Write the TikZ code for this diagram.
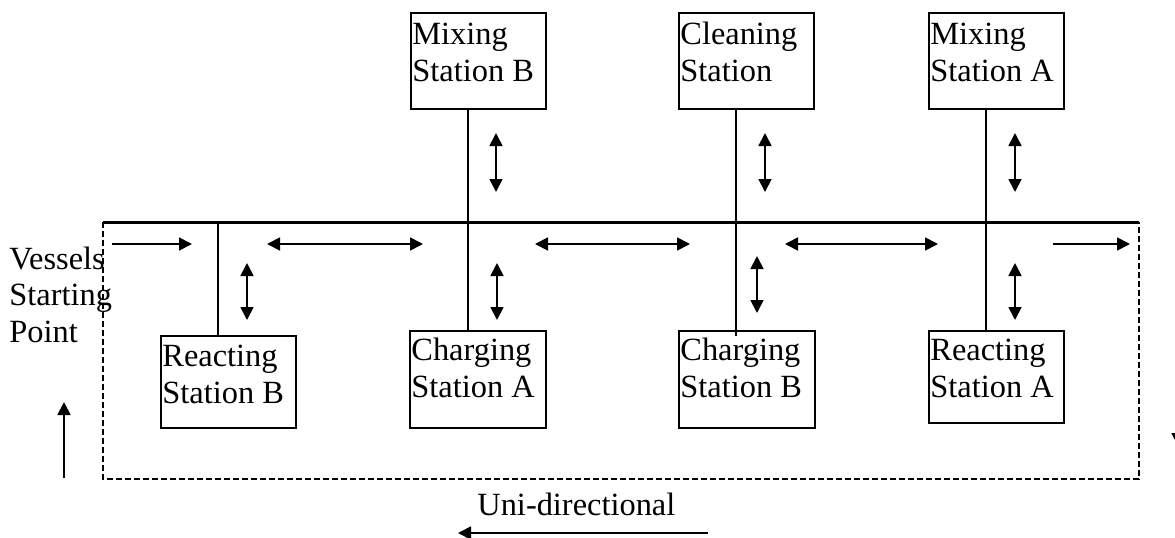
\documentclass[tikz,border=0pt]{standalone}
\usepackage{fontspec}
\setmainfont{Liberation Serif}
\usetikzlibrary{arrows.meta,calc}
\begin{document}
\begin{tikzpicture}[x=0.5pt,y=-0.5pt,
  station/.style={draw,line width=0.9pt,inner sep=0pt,anchor=north west},
  caption/.style={inner sep=0pt,anchor=base west,align=left,
    font=\fontsize{16.2pt}{18.2pt}\selectfont},
  track/.style={line width=1.5pt},
  stem/.style={line width=1.3pt},
  loop/.style={line width=0.7pt,dash pattern=on 3pt off 1.5pt},
  move/.style={line width=0.9pt,-{Triangle[length=6.5pt,width=6.5pt]}},
  both/.style={line width=0.9pt,{Triangle[length=6.5pt,width=6.5pt]}-{Triangle[length=6.5pt,width=6.5pt]}}]
\useasboundingbox (0,0) rectangle (1175,537);

% stations above the track
\node[station,minimum width=67.5pt,minimum height=48pt] (mixB) at (410,12) {};
\node[station,minimum width=67.5pt,minimum height=48pt] (clean) at (678,12) {};
\node[station,minimum width=67.5pt,minimum height=48pt] (mixA) at (928,12) {};
% stations below the track
\node[station,minimum width=67.5pt,minimum height=46pt] (reacB) at (160,335) {};
\node[station,minimum width=68pt,minimum height=48.5pt] (chA) at (409,330) {};
\node[station,minimum width=68pt,minimum height=48.5pt] (chB) at (678,330) {};
\node[station,minimum width=67.5pt,minimum height=46pt] (reacA) at (928,330) {};

% station names (anchored at the baseline of the second line)
\node[caption] at ($(mixB.north west)+(2,69)$) {Mixing\\Station B};
\node[caption] at ($(clean.north west)+(2,69)$) {Cleaning\\Station};
\node[caption] at ($(mixA.north west)+(2,69)$) {Mixing\\Station A};
\node[caption] at ($(reacB.north west)+(2,68)$) {Reacting\\Station B};
\node[caption] at ($(chA.north west)+(2,67)$) {Charging\\Station A};
\node[caption] at ($(chB.north west)+(2,67)$) {Charging\\Station B};
\node[caption] at ($(reacA.north west)+(2,67)$) {Reacting\\Station A};

% main track and its junctions
\coordinate (tL) at (103,222);
\coordinate (tR) at (1139,222);
\coordinate (jB) at (218,222);
\coordinate (j1) at (468,222);
\coordinate (j2) at (736,222);
\coordinate (j3) at (986,222);
\draw[track] (tL) -- (tR);
\draw[stem] (jB) -- (jB |- reacB.north);
\draw[stem] (mixB.south -| j1) -- (j1 |- chA.north);
\draw[stem] (clean.south -| j2) -- ($(j2 |- chB.north)+(0,6)$);
\draw[stem] (mixA.south -| j3) -- (j3 |- reacA.north);

% dashed return loop
\coordinate (bL) at (103,479);
\coordinate (bR) at (1139,479);
\draw[loop] (tL) -- (bL) -- (bR) -- (tR);

% movement along the track
\draw[move] (112,244) -- (192,244);
\draw[both] (267,244) -- (423,244);
\draw[both] (535,244) -- (690,244);
\draw[both] (785,244) -- (938,244);
\draw[move] (1053,244) -- (1130,244);

% movement into and out of the stations
\draw[both] (496,133) -- (496,192);
\draw[both] (765,133) -- (765,192);
\draw[both] (1015,133) -- (1015,192);
\draw[both] (247,263) -- (247,320);
\draw[both] (497,263) -- (497,320);
\draw[both] (757,256) -- (757,313);
\draw[both] (1015,263) -- (1015,320);

% start label and direction markers
\node[caption] (start) at (9,342) {Vessels\\Starting\\Point};
\coordinate (upA) at (64,478);
\coordinate (upB) at (64,402);
\draw[move] (upA) -- (upB);
\coordinate (dnA) at (1178,360);
\coordinate (dnB) at (1178,446);
\draw[move] (dnA) -- (dnB);
\node[caption] (uni) at (477,515) {Uni-directional};
\coordinate (uA) at (708,533);
\coordinate (uB) at (458,533);
\draw[move] (uA) -- (uB);
\end{tikzpicture}
\end{document}
